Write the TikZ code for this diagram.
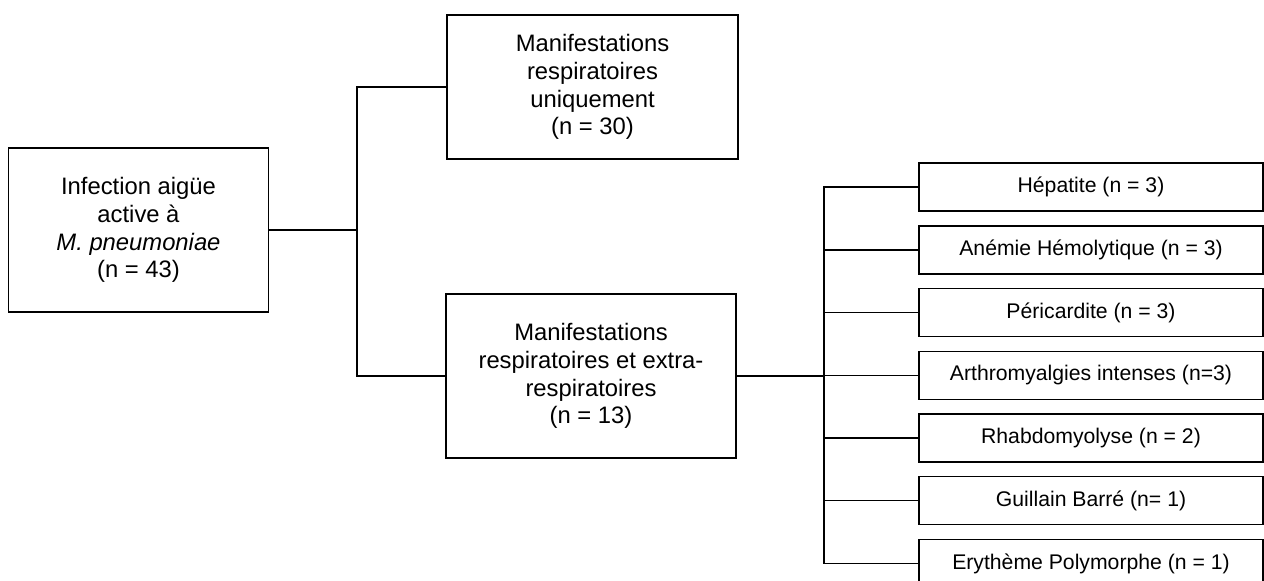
\documentclass[tikz,border=0pt]{standalone}
\usepackage{fontspec}
\setmainfont{Liberation Sans}
\begin{document}
\begin{tikzpicture}[x=1pt,y=-1pt,
  box/.style={draw,line width=1.6pt,inner sep=0pt,align=center,font=\fontsize{23.8}{27.7}\selectfont},
  rbox/.style={draw,line width=1.6pt,inner sep=0pt,align=center,minimum width=344pt,minimum height=48pt,font=\fontsize{21.2}{25}\selectfont},
  conn/.style={line width=1.6pt}]
\useasboundingbox (0,0) rectangle (1264,581);
\clip (0,0) rectangle (1264,581);
\node[box,minimum width=260pt,minimum height=164pt] (infect) at (138.5,230) {Infection aigüe\\active à\\\textit{M. pneumoniae}\\(n = 43)};
\node[box,minimum width=291pt,minimum height=144pt] (top) at (592.5,87) {Manifestations\\respiratoires\\uniquement\\(n = 30)};
\node[box,minimum width=290pt,minimum height=164pt] (bot) at (591,376) {Manifestations\\respiratoires et extra-\\respiratoires\\(n = 13)};
\node[rbox] (r1) at (1091,187) {Hépatite (n = 3)};
\node[rbox] (r2) at (1091,249.75) {Anémie Hémolytique (n = 3)};
\node[rbox] (r3) at (1091,312.5) {Péricardite (n = 3)};
\node[rbox] (r4) at (1091,375.5) {Arthromyalgies intenses (n=3)};
\node[rbox] (r5) at (1091,438) {Rhabdomyolyse (n = 2)};
\node[rbox] (r6) at (1091,500.5) {Guillain Barré (n= 1)};
\node[rbox] (r7) at (1091,563.5) {Erythème Polymorphe (n = 1)};
\coordinate (j1) at (357,230);
\coordinate (j2) at (824,376);
\draw[conn] (infect.east) -- (j1);
\draw[conn] (top.west) -- (j1 |- top.west) -- (j1 |- bot.west) -- (bot.west);
\draw[conn] (bot.east) -- (j2);
\draw[conn] (r1.west) -- (j2 |- r1.west) -- (j2 |- r7.west) -- (r7.west);
\foreach \i in {2,...,6} {\draw[conn] (r\i.west) -- (j2 |- r\i.west);}
\end{tikzpicture}
\end{document}
